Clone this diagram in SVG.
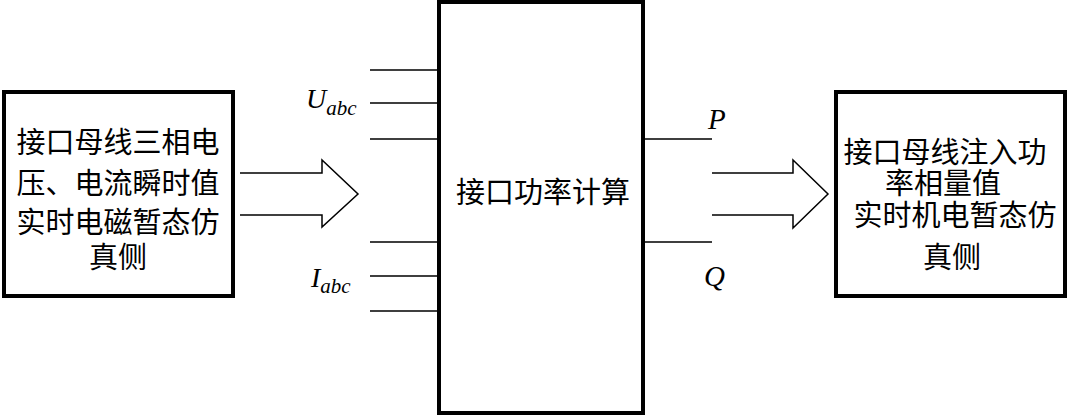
<svg xmlns="http://www.w3.org/2000/svg" width="1069" height="416" viewBox="0 0 1069 416">
<style>
.box{fill:#fff;stroke:#000;stroke-width:4}
.ln{stroke:#000;stroke-width:1.5;fill:none}
.cjk{font-family:"Noto Sans CJK SC",sans-serif;font-size:29px;fill:#000;text-anchor:middle}
.m{font-family:"Liberation Serif",serif;font-style:italic;fill:#000}
</style>
<rect width="1069" height="416" fill="#fff"/>
<g id="left-node">
<rect class="box" x="4" y="92" width="229" height="204"/>
<text class="cjk" x="118" y="153">接口母线三相电</text>
<text class="cjk" x="118" y="194">压、电流瞬时值</text>
<text class="cjk" x="118" y="233">实时电磁暂态仿</text>
<text class="cjk" x="118" y="268">真侧</text>
</g>
<g id="mid-node">
<rect class="box" x="439" y="2" width="204" height="411"/>
<text class="cjk" x="543" y="203">接口功率计算</text>
</g>
<g id="right-node">
<rect class="box" x="836" y="92" width="229" height="204"/>
<text class="cjk" x="945" y="163">接口母线注入功</text>
<text class="cjk" x="943" y="194">率相量值</text>
<text class="cjk" x="955" y="226">实时机电暂态仿</text>
<text class="cjk" x="952" y="268">真侧</text>
</g>
<g id="connectors">
<path class="ln" d="M240 173H322V160L358 194L322 227V215H240"/>
<path class="ln" d="M712 173H793V160L828 194L793 228V215H712"/>
<path class="ln" d="M370 70H438M370 103H438M370 139H438M370 242H438M370 276H438M370 311H438"/>
<path class="ln" d="M643 139H712M643 242H712"/>
</g>
<g id="labels">
<text class="m" x="306" y="108" font-size="28">U<tspan font-size="21" dy="7">abc</tspan></text>
<text class="m" x="311" y="287" font-size="28">I<tspan font-size="21" dy="6">abc</tspan></text>
<text class="m" x="708" y="129" font-size="29">P</text>
<text class="m" x="704" y="286" font-size="29">Q</text>
</g>
</svg>
